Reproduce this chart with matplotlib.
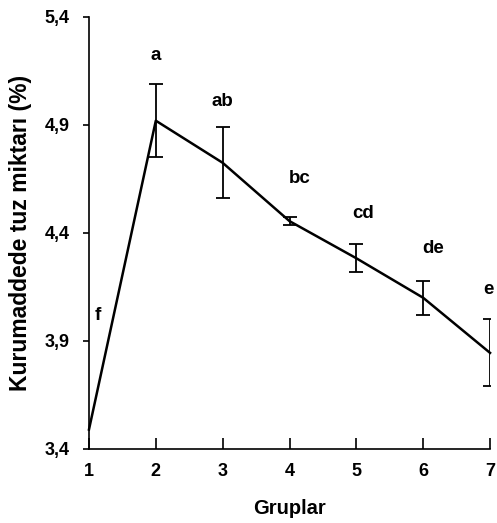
import matplotlib
matplotlib.use("Agg")
import matplotlib.pyplot as plt
from matplotlib.ticker import FuncFormatter

groups = [1, 2, 3, 4, 5, 6, 7]
means = [3.49, 4.92, 4.725, 4.455, 4.283, 4.10, 3.845]
errors = [0.0, 0.17, 0.165, 0.02, 0.065, 0.08, 0.155]
letters = ["f", "a", "ab", "bc", "cd", "de", "e"]
letter_x = [1.13, 2.0, 3.0, 4.15, 5.1, 6.15, 6.98]
letter_y = [4.02, 5.22, 5.01, 4.65, 4.49, 4.33, 4.14]
yticks = [3.4, 3.9, 4.4, 4.9, 5.4]
xticks = [1, 2, 3, 4, 5, 6, 7]

plt.rcParams['font.family'] = ['Liberation Sans', 'DejaVu Sans']
plt.rcParams['font.weight'] = 'bold'

fig = plt.figure(figsize=(4.97, 5.23), dpi=100)
ax = fig.add_axes([0.179, 0.1415, 0.807, 0.826])

ax.plot(groups, means, color='black', lw=1.8, clip_on=False, zorder=3)
eg = [g for g, e in zip(groups, errors) if e > 0]
em = [m for m, e in zip(means, errors) if e > 0]
ee = [e for e in errors if e > 0]
ax.errorbar(eg, em, yerr=ee, fmt='none', ecolor='black',
            elinewidth=1.3, capsize=5, capthick=1.3, clip_on=True, zorder=3)

for lx, ly, t in zip(letter_x, letter_y, letters):
    ax.text(lx, ly, t, ha='center', va='center', fontsize=13.5, fontweight='bold',
            clip_on=False)

ax.set_xlim(1, 7)
ax.set_ylim(3.4, 5.4)
ax.set_xticks(xticks)
ax.set_yticks(yticks)
ax.yaxis.set_major_formatter(FuncFormatter(lambda v, p: f"{v:.1f}".replace('.', ',')))
ax.spines['top'].set_visible(False)
ax.spines['right'].set_visible(False)
ax.spines['left'].set_linewidth(1.2)
ax.spines['bottom'].set_linewidth(1.2)
ax.tick_params(axis='y', direction='out', length=4, width=1.2, pad=10, labelsize=13)
ax.tick_params(axis='x', direction='in', length=8, width=1.2, pad=10, labelsize=13)
for lab in ax.get_xticklabels() + ax.get_yticklabels():
    lab.set_fontweight('bold')

ax.set_xlabel("Gruplar", fontsize=14.5, fontweight='bold', labelpad=14)
ax.set_ylabel("Kurumaddede tuz miktarı (%)", fontsize=16.5, fontweight='bold', labelpad=9)

fig.savefig("out.png", dpi=100)
